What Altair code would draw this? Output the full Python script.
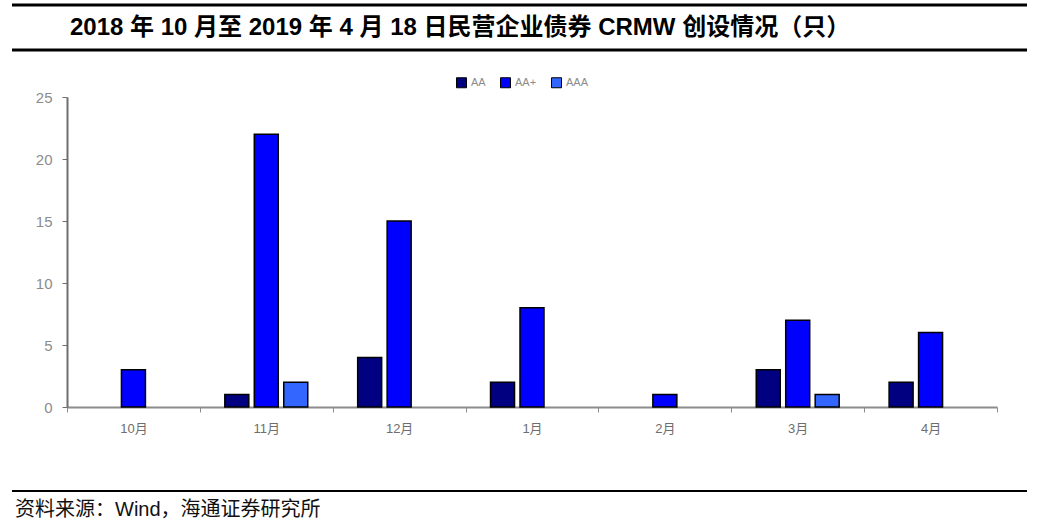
import altair as alt
import pandas as pd

months = ["10月", "11月", "12月", "1月", "2月", "3月", "4月"]
ratings = ["AA", "AA+", "AAA"]
aa = [0, 1, 4, 2, 0, 3, 2]
aa_plus = [3, 22, 15, 8, 1, 7, 6]
aaa = [0, 2, 0, 0, 0, 1, 0]
colors = ["#000080", "#0000ff", "#3366ff"]

title_text = "2018 年 10 月至 2019 年 4 月 18 日民营企业债券 CRMW 创设情况（只）"
source_text = "资料来源：Wind，海通证券研究所"

rows = []
for i, m in enumerate(months):
    for r, vals in zip(ratings, [aa, aa_plus, aaa]):
        rows.append({"month": m, "rating": r, "value": vals[i]})
df = pd.DataFrame(rows)
df_bars = df[df["value"] > 0]

FONT = "Liberation Sans, Noto Sans CJK SC"

bars = alt.Chart(df_bars).mark_bar(stroke="black", strokeWidth=1.5).encode(
    x=alt.X("month:N", sort=months,
            scale=alt.Scale(domain=months, paddingInner=0, paddingOuter=0),
            axis=alt.Axis(title=None, labelAngle=0, tickBand="extent", domainColor="#8c8c8c",
                          domainWidth=2, tickColor="#8c8c8c", tickSize=5, labelColor="#6e6e6e",
                          labelFontSize=13, labelPadding=10, labelFont=FONT)),
    xOffset=alt.XOffset("rating:N", scale=alt.Scale(domain=ratings, paddingInner=0.186, paddingOuter=0.847)),
    y=alt.Y("value:Q", scale=alt.Scale(domain=[0, 25], nice=False),
            axis=alt.Axis(title=None, values=[0, 5, 10, 15, 20, 25], grid=False, domainColor="#6e6e6e",
                          domainWidth=2, tickColor="#6e6e6e", tickSize=5, labelColor="#8c8c8c",
                          labelFontSize=15, labelPadding=10, labelFont=FONT)),
    color=alt.Color("rating:N", scale=alt.Scale(domain=ratings, range=colors),
                    legend=alt.Legend(title=None, orient="none", direction="horizontal",
                                      legendX=389, legendY=-20, symbolType="square",
                                      symbolSize=100, symbolStrokeColor="black", symbolStrokeWidth=1,
                                      labelColor="#8c8c8c", labelFontSize=11, columnPadding=12,
                                      labelFont=FONT)),
)

one = pd.DataFrame({"a": [0]})

title = alt.Chart(one).mark_text(align="left", baseline="middle", fontSize=24, fontWeight="bold",
                                 font=FONT, color="black").encode(
    x=alt.value(3), y=alt.value(-69), text=alt.value(title_text))

source = alt.Chart(one).mark_text(align="left", baseline="middle", fontSize=20,
                                  font=FONT, color="#111111").encode(
    x=alt.value(-52), y=alt.value(413), text=alt.value(source_text))

rule_top = alt.Chart(one).mark_rule(color="black", strokeWidth=3).encode(
    x=alt.value(-55), x2=alt.value(960), y=alt.value(-92))
rule_mid = alt.Chart(one).mark_rule(color="black", strokeWidth=3).encode(
    x=alt.value(-55), x2=alt.value(960), y=alt.value(-47))
rule_bot = alt.Chart(one).mark_rule(color="black", strokeWidth=2).encode(
    x=alt.value(-55), x2=alt.value(960), y=alt.value(394))

chart = alt.layer(bars, title, source, rule_top, rule_mid, rule_bot).properties(
    width=930, height=310,
    autosize=alt.AutoSizeParams(type="none"),
    padding={"left": 67, "top": 97, "right": 53, "bottom": 123},
).configure(background="white").configure_view(strokeWidth=0)

chart.save("out.html", embed_options={"renderer": "svg", "actions": False})
